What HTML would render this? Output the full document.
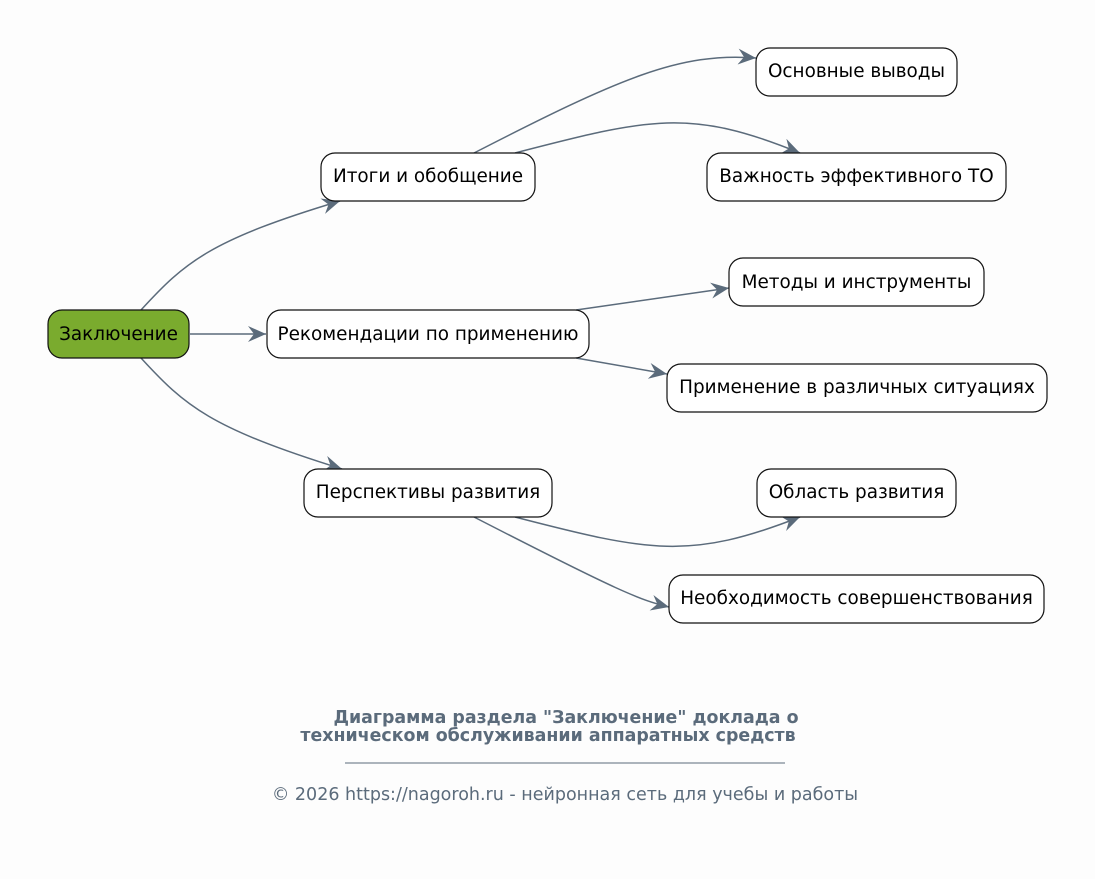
<!DOCTYPE html>
<html><head><meta charset="utf-8"><style>
html,body{margin:0;padding:0;background:#fdfdfd;}
svg{display:block;}
text{font-family:"DejaVu Sans","Liberation Sans",sans-serif;}
</style></head><body>
<svg width="1095" height="879" viewBox="0 0 1095 879" xmlns="http://www.w3.org/2000/svg">
<defs>
<marker id="a" markerWidth="20" markerHeight="16" refX="18" refY="8" orient="auto" markerUnits="userSpaceOnUse">
<path d="M0,0 L18,8 L0,16 L6,8 Z" fill="#5b6b7b"/>
</marker>
</defs>
<g fill="none" stroke="#5b6b7b" stroke-width="1.5" marker-end="url(#a)">
<path d="M141,310 C185,262 210,240 340,201"/>
<path d="M190,334 L266,334"/>
<path d="M141,358 C185,406 210,428 342,469"/>
<path d="M474,153 C620,78 680,52 756,58"/>
<path d="M515,153 C650,118 690,108 800,153"/>
<path d="M576,310 L729,288"/>
<path d="M576,358 L667,374"/>
<path d="M515,517 C650,552 690,560 800,517"/>
<path d="M474,517 C620,592 640,600 669,607"/>
</g>
<g stroke="#111" stroke-width="1.2">
<rect x="48" y="310" width="141" height="48" rx="14" fill="#7aab2e"/>
<rect x="321" y="153" width="214" height="48" rx="14" fill="#fff"/>
<rect x="267" y="310" width="322" height="48" rx="14" fill="#fff"/>
<rect x="304" y="469" width="248" height="48" rx="14" fill="#fff"/>
<rect x="756" y="48" width="201" height="48" rx="14" fill="#fff"/>
<rect x="707" y="153" width="299" height="48" rx="14" fill="#fff"/>
<rect x="729" y="258" width="255" height="48" rx="14" fill="#fff"/>
<rect x="667" y="364" width="380" height="48" rx="14" fill="#fff"/>
<rect x="757" y="469" width="199" height="48" rx="14" fill="#fff"/>
<rect x="669" y="575" width="375" height="48" rx="14" fill="#fff"/>
</g>
<g font-size="18.4" fill="#000" text-anchor="middle">
<text x="118.5" y="340">Заключение</text>
<text x="428" y="182">Итоги и обобщение</text>
<text x="428" y="340">Рекомендации по применению</text>
<text x="428" y="498">Перспективы развития</text>
<text x="856.5" y="77">Основные выводы</text>
<text x="856.5" y="182">Важность эффективного ТО</text>
<text x="856.5" y="288">Методы и инструменты</text>
<text x="857" y="393">Применение в различных ситуациях</text>
<text x="856.5" y="498">Область развития</text>
<text x="856.5" y="604">Необходимость совершенствования</text>
</g>
<g fill="#5b6b7b" text-anchor="middle">
<text x="566" y="723" font-size="17.4" font-weight="bold">Диаграмма раздела "Заключение" доклада о</text>
<text x="548" y="741" font-size="17.4" font-weight="bold">техническом обслуживании аппаратных средств</text>
<line x1="345" y1="763" x2="785" y2="763" stroke="#5b6b7b" stroke-width="1"/>
<text x="565" y="800" font-size="17.5">© 2026 https://nagoroh.ru - нейронная сеть для учебы и работы</text>
</g>
</svg>
</body></html>
